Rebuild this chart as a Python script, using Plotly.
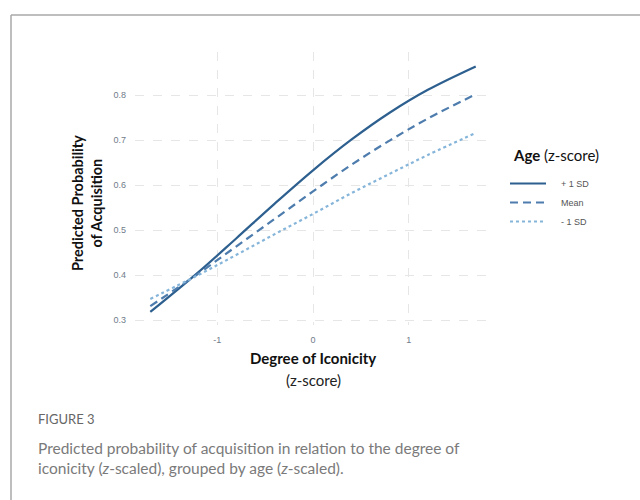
import plotly.graph_objects as go

# Data (x = degree of iconicity, z-score)
iconicity = [-1.7, -1.2, -0.8, -0.4, 0.0, 0.4, 0.8, 1.2, 1.7]
plus_1sd = [0.318, 0.406, 0.482, 0.559, 0.633, 0.701, 0.761, 0.812, 0.864]
mean_age = [0.331, 0.403, 0.464, 0.525, 0.586, 0.645, 0.699, 0.748, 0.802]
minus_1sd = [0.347, 0.400, 0.445, 0.491, 0.536, 0.582, 0.625, 0.667, 0.716]
series_names = ["+ 1 SD", "Mean", "- 1 SD"]
x_ticks = [-1, 0, 1]
y_ticks = [0.3, 0.4, 0.5, 0.6, 0.7, 0.8]

W, H = 640, 500
px = lambda v: v / W
py = lambda v: 1 - v / H

fig = go.Figure()
styles = [
    dict(color="#2d5f8f", width=2.2, dash="solid"),
    dict(color="#4d7cad", width=2.2, dash="8px,5px"),
    dict(color="#86b5da", width=2.2, dash="3px,3px"),
]
pad = "\u00a0" * 4
for name, ys, st in zip(series_names, [plus_1sd, mean_age, minus_1sd], styles):
    fig.add_trace(go.Scatter(x=iconicity, y=ys, mode="lines", name=pad + name,
                             line=dict(shape="spline", **st)))

grid = dict(showgrid=True, gridcolor="#e6e6e6", griddash="dash", gridwidth=1,
            zeroline=False, showline=False, ticks="", ticklabelstandoff=8,
            tickfont=dict(family="Liberation Sans, Arial", size=9, color="#707c8a"))

fig.update_layout(
    width=W, height=H,
    margin=dict(l=0, r=0, t=0, b=0),
    paper_bgcolor="white", plot_bgcolor="white",
    xaxis=dict(domain=[px(135), px(492)], range=[-1.86, 1.87],
               tickvals=x_ticks, ticktext=[str(t) for t in x_ticks], **grid),
    yaxis=dict(domain=[py(325), py(52)], range=[0.289, 0.896],
               tickvals=y_ticks, ticktext=[str(t) for t in y_ticks], **grid),
    legend=dict(x=px(505), y=py(169), xanchor="left", yanchor="top",
                bgcolor="rgba(0,0,0,0)", itemwidth=36,
                font=dict(family="Liberation Sans, Arial", size=9, color="#555"),
                tracegroupgap=0),
    showlegend=True,
)

# legend title
fig.add_annotation(x=px(511), y=py(155), xref="paper", yref="paper",
                   xanchor="left", yanchor="middle",
                   text="<b>Age</b> (z-score)", showarrow=False,
                   font=dict(family="Lato", size=15, color="#111"))
# y axis title
fig.add_annotation(x=px(87), y=py(203), xref="paper", yref="paper",
                   xanchor="center", yanchor="middle",
                   text="<b>Predicted Probability<br>of Acquisition</b>",
                   textangle=-90, showarrow=False,
                   font=dict(family="Lato", size=14.5, color="#111"))
# x axis title
fig.add_annotation(x=px(313), y=py(358), xref="paper", yref="paper",
                   xanchor="center", yanchor="middle",
                   text="<b>Degree of Iconicity</b>", showarrow=False,
                   font=dict(family="Lato", size=15, color="#111"))
fig.add_annotation(x=px(313), y=py(380), xref="paper", yref="paper",
                   xanchor="center", yanchor="middle",
                   text="(z-score)", showarrow=False,
                   font=dict(family="Lato", size=15, color="#222"))

# caption
fig.add_annotation(x=px(36), y=py(419), xref="paper", yref="paper",
                   xanchor="left", yanchor="middle",
                   text="FIGURE 3", showarrow=False,
                   font=dict(family="Lato", size=13, color="#666"))
fig.add_annotation(x=px(36), y=py(458), xref="paper", yref="paper",
                   xanchor="left", yanchor="middle", align="left",
                   text="Predicted probability of acquisition in relation to the degree of<br>"
                        "iconicity (<i>z</i>-scaled), grouped by age (<i>z</i>-scaled).",
                   showarrow=False,
                   font=dict(family="Lato", size=15.5, color="#7a7a7a"))

# frame border
fig.add_shape(type="line", xref="paper", yref="paper", x0=px(11), x1=1.01,
              y0=py(15), y1=py(15), line=dict(color="#a8a8a8", width=1.5))
fig.add_shape(type="line", xref="paper", yref="paper", x0=px(11), x1=px(11),
              y0=py(15), y1=-0.01, line=dict(color="#a8a8a8", width=1.5))

fig.write_html("out.html")
